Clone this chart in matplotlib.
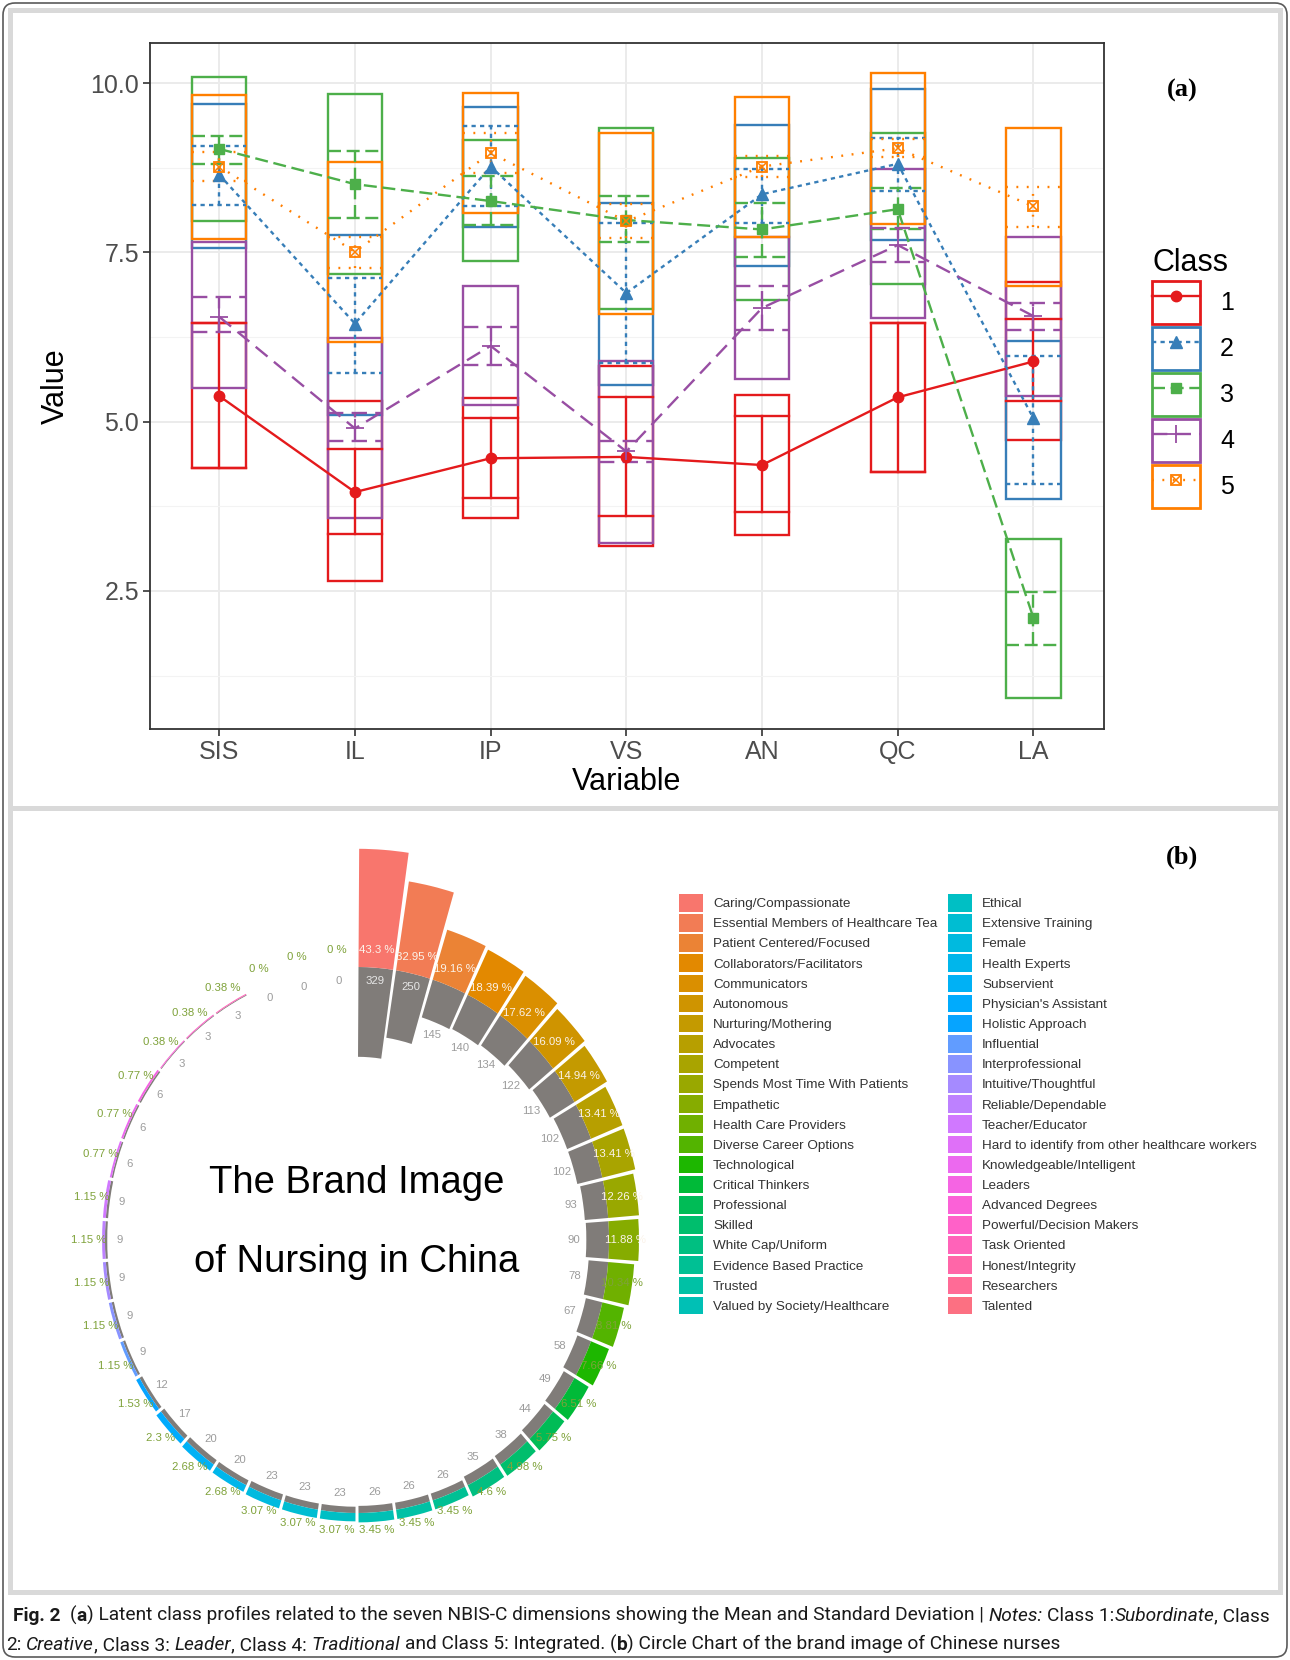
import numpy as np
import matplotlib
matplotlib.use("Agg")
import matplotlib.pyplot as plt
from matplotlib import font_manager
from matplotlib.patches import Rectangle, FancyBboxPatch
from matplotlib.lines import Line2D
from matplotlib.legend_handler import HandlerTuple

plt.rcParams['font.family'] = ['Liberation Sans', 'DejaVu Sans']

# ---------------- panel (a) data ----------------
variables = ['SIS', 'IL', 'IP', 'VS', 'AN', 'QC', 'LA']
classes = ['1', '2', '3', '4', '5']
class_mean = [
    [5.38, 3.96, 4.46, 4.48, 4.36, 5.36, 5.89],
    [8.65, 6.45, 8.77, 6.90, 8.36, 8.81, 5.05],
    [9.03, 8.51, 8.26, 7.98, 7.84, 8.14, 2.10],
    [6.55, 4.90, 6.12, 4.56, 6.68, 7.61, 6.56],
    [8.77, 7.51, 8.97, 7.96, 8.77, 9.04, 8.18],
]
box_low = [
    [4.31, 2.64, 3.57, 3.16, 3.33, 4.26, 4.73],
    [7.56, 5.10, 7.88, 5.54, 7.30, 7.69, 3.86],
    [7.96, 7.18, 7.38, 6.66, 6.80, 7.04, 0.92],
    [5.50, 3.58, 5.25, 3.21, 5.63, 6.53, 5.38],
    [7.70, 6.18, 8.09, 6.59, 7.73, 7.92, 7.00],
]
box_high = [
    [6.46, 5.30, 5.35, 5.82, 5.40, 6.46, 7.07],
    [9.70, 7.76, 9.65, 8.23, 9.38, 9.91, 6.19],
    [10.09, 9.84, 9.16, 9.34, 8.89, 9.26, 3.26],
    [7.66, 6.24, 7.00, 5.90, 7.73, 8.74, 7.73],
    [9.83, 8.84, 9.86, 9.27, 9.80, 10.15, 9.34],
]
err_low = [
    [4.31, 3.34, 3.87, 3.61, 3.66, 4.26, 5.30],
    [8.20, 5.72, 8.18, 5.86, 7.94, 8.41, 4.08],
    [8.81, 8.01, 7.90, 7.66, 7.44, 7.84, 1.70],
    [6.32, 4.71, 5.84, 4.41, 6.35, 7.36, 6.35],
    [8.55, 7.27, 8.67, 7.71, 8.62, 8.91, 7.88],
]
err_high = [
    [6.46, 4.60, 5.05, 5.37, 5.09, 6.46, 6.51],
    [9.07, 7.13, 9.37, 7.94, 8.74, 9.19, 5.97],
    [9.22, 9.00, 8.63, 8.34, 8.23, 8.46, 2.48],
    [6.84, 5.13, 6.40, 4.71, 7.01, 7.86, 6.76],
    [8.99, 7.73, 9.27, 8.21, 8.92, 9.17, 8.47],
]

# ---------------- panel (b) data ----------------
traits = ["Caring/Compassionate", "Essential Members of Healthcare Tea",
          "Patient Centered/Focused", "Collaborators/Facilitators", "Communicators",
          "Autonomous", "Nurturing/Mothering", "Advocates", "Competent",
          "Spends Most Time With Patients", "Empathetic", "Health Care Providers",
          "Diverse Career Options", "Technological", "Critical Thinkers", "Professional",
          "Skilled", "White Cap/Uniform", "Evidence Based Practice", "Trusted",
          "Valued by Society/Healthcare", "Ethical", "Extensive Training", "Female",
          "Health Experts", "Subservient", "Physician's Assistant", "Holistic Approach",
          "Influential", "Interprofessional", "Intuitive/Thoughtful", "Reliable/Dependable",
          "Teacher/Educator", "Hard to identify from other healthcare workers",
          "Knowledgeable/Intelligent", "Leaders", "Advanced Degrees",
          "Powerful/Decision Makers", "Task Oriented", "Honest/Integrity",
          "Researchers", "Talented"]
counts = [329, 250, 145, 140, 134, 122, 113, 102, 102, 93, 90, 78, 67, 58, 49, 44, 38,
          35, 26, 26, 26, 23, 23, 23, 20, 20, 17, 12, 9, 9, 9, 9, 9, 6, 6, 6, 3, 3, 3,
          0, 0, 0]
percents = [43.3, 32.95, 19.16, 18.39, 17.62, 16.09, 14.94, 13.41, 13.41, 12.26, 11.88,
            10.34, 8.81, 7.66, 6.51, 5.75, 4.98, 4.6, 3.45, 3.45, 3.45, 3.07, 3.07, 3.07,
            2.68, 2.68, 2.3, 1.53, 1.15, 1.15, 1.15, 1.15, 1.15, 0.77, 0.77, 0.77, 0.38,
            0.38, 0.38, 0, 0, 0]

W, H = 1290, 1660
fig = plt.figure(figsize=(W / 100, H / 100), dpi=100)


def px(x0, y0, x1, y1):
    # pixel box measured from the top-left -> figure rect
    return [x0 / W, 1 - y1 / H, (x1 - x0) / W, (y1 - y0) / H]


# page frames
fig.add_artist(FancyBboxPatch((0.03, 0.03), 12.84, 16.54, boxstyle='round,pad=0,rounding_size=0.12',
                              transform=fig.dpi_scale_trans, fill=False, ec='#5a5a5a', lw=1.2, zorder=0))
for y_top, y_bot in [(0.10, 8.08), (8.08, 15.92)]:
    fig.add_artist(Rectangle((0.10, H / 100 - y_bot), 12.70, y_bot - y_top,
                             transform=fig.dpi_scale_trans, fill=False, ec='#d9d9d9', lw=3.6, zorder=0))

# ---------------- panel (a) ----------------
set1 = ['#E41A1C', '#377EB8', '#4DAF4A', '#984EA3', '#FF7F00']
dashes = ['-', (0, (1.8, 1.8)), (0, (5.5, 2.4)), (0, (6.5, 3.5)), (0, (0.8, 3.6))]
lw = 1.7
hw = 0.2

ax = fig.add_axes(px(150, 43, 1104, 729))
x = np.arange(len(variables))
for k in range(5):
    for i in range(len(variables)):
        ax.add_patch(Rectangle((x[i] - hw, box_low[k][i]), 2 * hw, box_high[k][i] - box_low[k][i],
                               fill=False, ec=set1[k], lw=lw, zorder=2 + k * 0.1))
for k in range(5):
    for i in range(len(variables)):
        ax.plot([x[i], x[i]], [err_low[k][i], err_high[k][i]], color=set1[k], lw=lw,
                linestyle=dashes[k], zorder=3)
        for yy in (err_low[k][i], err_high[k][i]):
            ax.plot([x[i] - hw, x[i] + hw], [yy, yy], color=set1[k], lw=lw,
                    linestyle=dashes[k], zorder=3)
markers = [dict(marker='o', ms=7.5), dict(marker='^', ms=9), dict(marker='s', ms=7),
           dict(marker='+', ms=13, mew=1.3), dict(marker='s', ms=7.5, mfc='none', mew=1.3)]
for k in range(5):
    ax.plot(x, class_mean[k], color=set1[k], lw=lw, linestyle=dashes[k], zorder=4, **markers[k])
ax.plot(x, class_mean[4], linestyle='none', marker='x', ms=5.5, mew=1.1, color=set1[4], zorder=5)

ax.set_xlim(-0.51, 6.52)
ax.set_ylim(0.46, 10.595)
ax.set_xticks(x)
ax.set_xticklabels(variables)
ax.set_yticks([2.5, 5.0, 7.5, 10.0])
ax.set_yticklabels(['2.5', '5.0', '7.5', '10.0'])
ax.set_yticks([1.25, 3.75, 6.25, 8.75], minor=True)
ax.grid(which='major', color='#ebebeb', lw=1.4)
ax.grid(which='minor', axis='y', color='#f3f3f3', lw=0.8)
ax.set_axisbelow(True)
ax.tick_params(which='major', length=5, width=1.2, color='#333333', labelsize=18,
               labelcolor='#4d4d4d', pad=3)
ax.tick_params(which='minor', length=0)
for s in ax.spines.values():
    s.set_color('#333333')
    s.set_linewidth(1.3)
ax.set_xlabel('Variable', fontsize=22, labelpad=2)
ax.set_ylabel('Value', fontsize=22, labelpad=14)

handles = []
for k in range(5):
    box = Rectangle((0, 0), 1, 1, fill=False, ec=set1[k], lw=2)
    ln = Line2D([], [], color=set1[k], lw=lw, linestyle=dashes[k], **markers[k])
    if k == 4:
        ln2 = Line2D([], [], color=set1[k], linestyle='none', marker='x', ms=5.5, mew=1.1)
        handles.append((box, ln, ln2))
    else:
        handles.append((box, ln))
ax.legend(handles, classes, title='Class', loc='upper left',
          bbox_to_anchor=(1152 / W, 1 - 248 / H), bbox_transform=fig.transFigure,
          handler_map={tuple: HandlerTuple(ndivide=1, pad=0)}, frameon=False, fontsize=18,
          title_fontsize=22, handlelength=1.92, handleheight=2.27, labelspacing=0.12,
          handletextpad=0.8, borderpad=0, borderaxespad=0, alignment='left')

fig.text(1182 / W, 1 - 90 / H, '(a)', family='Liberation Serif', fontweight='bold',
         fontsize=19, ha='center', va='center')

# ---------------- panel (b) ----------------


def hcl_hex(h, c=100.0, l=65.0):
    Xn, Yn, Zn = 95.047, 100.0, 108.883
    hr = np.deg2rad(h)
    u, v = c * np.cos(hr), c * np.sin(hr)
    Y = Yn * ((l + 16) / 116) ** 3
    den = Xn + 15 * Yn + 3 * Zn
    up = u / (13 * l) + 4 * Xn / den
    vp = v / (13 * l) + 9 * Yn / den
    X = Y * 9 * up / (4 * vp)
    Z = Y * (12 - 3 * up - 20 * vp) / (4 * vp)
    M = np.array([[3.2406, -1.5372, -0.4986], [-0.9689, 1.8758, 0.0415], [0.0557, -0.2040, 1.0570]])
    rgb = M @ (np.array([X, Y, Z]) / 100)
    rgb = np.where(rgb <= 0.0031308, 12.92 * rgb, 1.055 * np.clip(rgb, 0, None) ** (1 / 2.4) - 0.055)
    rgb = np.clip(rgb, 0, 1)
    return '#%02x%02x%02x' % tuple(int(round(c_ * 255)) for c_ in rgb)


n = len(traits)
hues = np.linspace(15, 375, n + 1)[:-1]
bar_colors = [hcl_hex(h) for h in hues]
cnt = np.array(counts, dtype=float)
pct = np.array(percents, dtype=float)
base = 1000.0

axp = fig.add_axes(px(-21, 830.5, 735, 1649.5), projection='polar')
axp.set_aspect('auto')
axp.set_theta_zero_location('N')
axp.set_theta_direction(-1)
axp.set_ylim(0, 1500)
axp.axis('off')
theta = (np.arange(n) + 0.5) * 2 * np.pi / n
width = 2 * np.pi / n * 0.92
axp.bar(theta, cnt, width=width, bottom=base - cnt, color='#807c79', linewidth=0)
cb = axp.bar(theta, pct * 10, width=width, bottom=base, color=bar_colors, linewidth=0)

for i in range(n):
    pc = '#fbf3ea' if pct[i] > 11 else '#7fa23a'
    axp.text(theta[i], 1065, f'{pct[i]:g} %', ha='center', va='center', fontsize=8.2,
             color=pc)
    if cnt[i] > 200:
        axp.text(theta[i], 952, f'{int(cnt[i])}', ha='center', va='center', fontsize=8.2,
                 color='#e6e6e6')
    else:
        axp.text(theta[i], base - cnt[i] - 48, f'{int(cnt[i])}', ha='center', va='center',
                 fontsize=8.2, color='#9c9c9c')

fig.text(357 / W, 1 - 1193 / H, 'The Brand Image', fontsize=27.5, ha='center',
         va='baseline', color='black')
fig.text(357 / W, 1 - 1272 / H, 'of Nursing in China', fontsize=27.5, ha='center',
         va='baseline', color='black')

leg_kw = dict(loc='upper left', frameon=False, fontsize=9.7, handlelength=1.78,
              handleheight=1.63, labelspacing=0.19, handletextpad=0.74, borderpad=0,
              borderaxespad=0, labelcolor='#333333')
half = 21
fig.legend(cb.patches[:half], traits[:half], bbox_to_anchor=(679 / W, 1 - 894 / H), **leg_kw)
fig.legend(cb.patches[half:], traits[half:], bbox_to_anchor=(948 / W, 1 - 894 / H), **leg_kw)

fig.text(1182 / W, 1 - 857 / H, '(b)', family='Liberation Serif', fontweight='bold',
         fontsize=19, ha='center', va='center')

# ---------------- caption ----------------
names = {f.name for f in font_manager.fontManager.ttflist}
cap_font = next(f for f in ['Liberation Sans Narrow', 'Roboto', 'Lato', 'DejaVu Sans']
                if f in names or f == 'DejaVu Sans')
renderer = fig.canvas.get_renderer()

line1 = [("Fig. 2", 'bold', 'normal'), ("  (", 'normal', 'normal'), ("a", 'bold', 'normal'),
         (") Latent class profiles related to the seven NBIS-C dimensions showing the Mean and "
          "Standard Deviation | ", 'normal', 'normal'), ("Notes:", 'normal', 'italic'),
         (" Class 1:", 'normal', 'normal'), ("Subordinate", 'normal', 'italic'),
         (", Class", 'normal', 'normal')]
line2 = [("2: ", 'normal', 'normal'), ("Creative", 'normal', 'italic'),
         (", Class 3: ", 'normal', 'normal'), ("Leader", 'normal', 'italic'),
         (", Class 4: ", 'normal', 'normal'), ("Traditional", 'normal', 'italic'),
         (" and Class 5: Integrated. (", 'normal', 'normal'), ("b", 'bold', 'normal'),
         (") Circle Chart of the brand image of Chinese nurses", 'normal', 'normal')]


def text_w(s, size, weight, style):
    t = fig.text(0, 0, '|' + s + '|', fontsize=size, fontweight=weight, fontstyle=style,
                 family=cap_font)
    w1 = t.get_window_extent(renderer).width
    t.set_text('||')
    w0 = t.get_window_extent(renderer).width
    t.remove()
    return w1 - w0


ref_size = 10.0
total = sum(text_w(s, ref_size, w, st) for s, w, st in line1)
cap_size = ref_size * 1256 / total


def draw_runs(runs, x0, y_base):
    xc = x0
    for s, w, st in runs:
        lead = len(s) - len(s.lstrip(' '))
        lead_w = text_w(' ' * lead, cap_size, w, st) if lead else 0
        fig.text((xc + lead_w) / W, 1 - y_base / H, s.strip(' '), fontsize=cap_size,
                 fontweight=w, fontstyle=st, family=cap_font, va='baseline', color='#1a1a1a')
        xc += text_w(s, cap_size, w, st)


draw_runs(line1, 13, 1621)
draw_runs(line2, 6, 1650)

fig.savefig('out.png', dpi=100, facecolor='white')
